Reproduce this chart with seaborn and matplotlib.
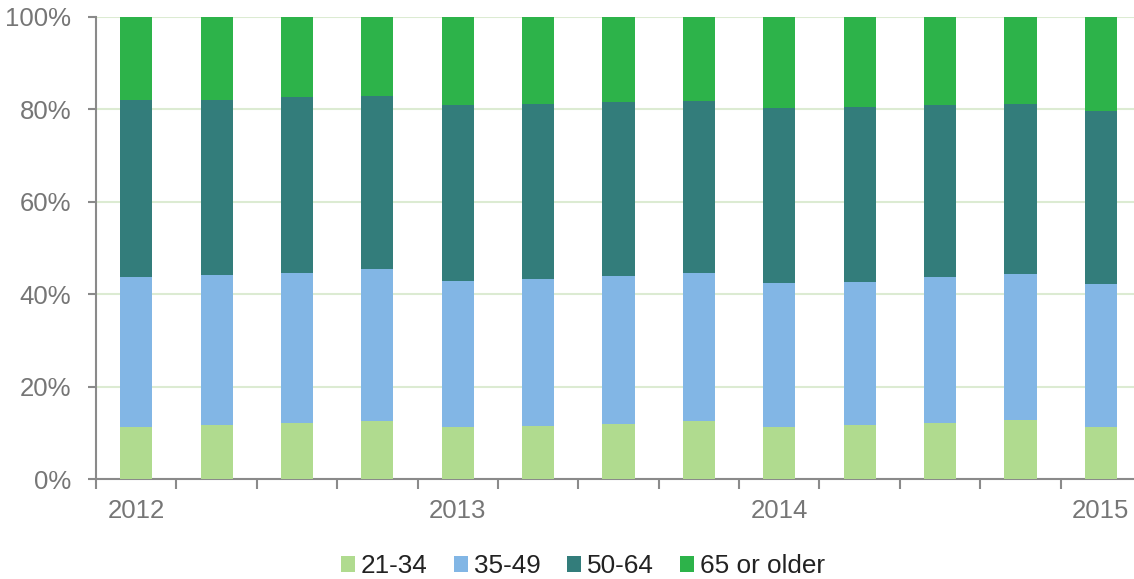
import matplotlib
matplotlib.use("Agg")
import matplotlib.pyplot as plt
from matplotlib.patches import Patch
import seaborn as sns
import numpy as np

# quarterly share of each age group (percent), 2012 Q1 .. 2015 Q1
quarters = ['2012Q1', '2012Q2', '2012Q3', '2012Q4',
            '2013Q1', '2013Q2', '2013Q3', '2013Q4',
            '2014Q1', '2014Q2', '2014Q3', '2014Q4',
            '2015Q1']
age_21_34 = [11.4, 11.7, 12.2, 12.6, 11.3, 11.6, 12.0, 12.6, 11.3, 11.7, 12.3, 12.8, 11.4]
age_35_49 = [32.4, 32.4, 32.5, 32.8, 31.6, 31.7, 31.9, 32.0, 31.1, 31.0, 31.4, 31.6, 30.8]
age_50_64 = [38.3, 38.0, 37.9, 37.4, 38.1, 37.9, 37.7, 37.3, 37.8, 37.7, 37.3, 36.8, 37.5]
age_65_up = [17.9, 17.9, 17.4, 17.2, 19.0, 18.8, 18.4, 18.1, 19.8, 19.6, 19.0, 18.8, 20.3]

series_names = ['21-34', '35-49', '50-64', '65 or older']
year_labels = ['2012', '2013', '2014', '2015']
year_pos = [0, 4, 8, 12]

colors = ['#b0db8f', '#82b6e5', '#337d7b', '#2db34a']

sns.set_theme(style="white")
plt.rcParams['font.family'] = ['Liberation Sans', 'DejaVu Sans']

fig = plt.figure(figsize=(11.34, 5.79), dpi=100)
ax = fig.add_axes([0.0847, 0.172, 0.9215, 0.799])

# stacked bars: draw cumulative totals from the top series down
stack = np.array([age_21_34, age_35_49, age_50_64, age_65_up])
cum = np.cumsum(stack, axis=0)
for i in range(3, -1, -1):
    sns.barplot(x=quarters, y=cum[i], color=colors[i], width=0.4,
                saturation=1, errorbar=None, linewidth=0, ax=ax, zorder=3)

gray = '#8a8a8a'
ax.set_xlim(-0.5, 12.5)
ax.set_ylim(0, 100)
ax.set_yticks(range(0, 101, 20))
ax.set_yticklabels([f'{v}%' for v in range(0, 101, 20)])
ax.yaxis.grid(True, color='#dcebd2', linewidth=1.5, zorder=0)
ax.set_axisbelow(True)

ax.set_xticks(np.arange(-0.5, 13, 1))
ax.set_xticklabels([])
ax.set_xticks(year_pos, minor=True)
ax.set_xticklabels(year_labels, minor=True)
ax.tick_params(axis='x', which='major', direction='out', length=7, width=1.5, color=gray, bottom=True)
ax.tick_params(axis='x', which='minor', length=0, pad=14, labelsize=18.5, labelcolor='#767676')
ax.tick_params(axis='y', direction='out', length=6, width=1.5, color=gray, left=True,
               pad=12, labelsize=18.5, labelcolor='#767676')
ax.set_xlabel('')
ax.set_ylabel('')

sns.despine(ax=ax, top=True, right=True)
for side in ['left', 'bottom']:
    ax.spines[side].set_color(gray)
    ax.spines[side].set_linewidth(1.5)

handles = [Patch(facecolor=c, edgecolor='none') for c in colors]
fig.legend(handles, series_names, loc='center', bbox_to_anchor=(0.514, 0.022), ncol=4,
           frameon=False, fontsize=18.8, handlelength=0.54, handleheight=0.54,
           handletextpad=0.23, columnspacing=1.0, labelcolor='#222222',
           borderpad=0, borderaxespad=0)

fig.savefig('out.png', dpi=100)
